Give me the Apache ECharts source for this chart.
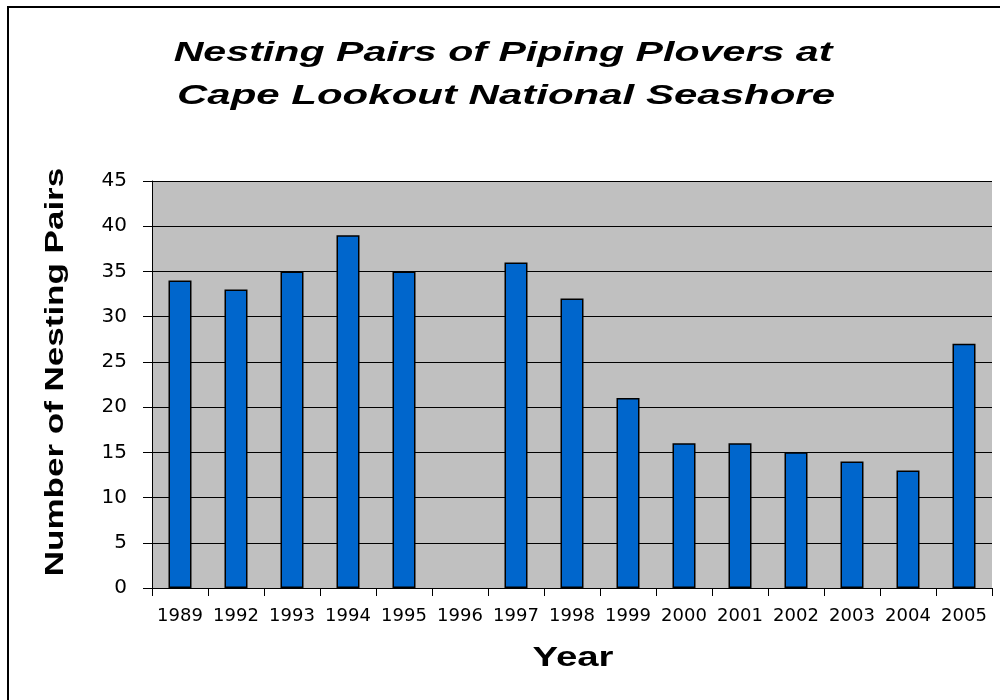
<html lang="en">
  <head>
    <meta charset="utf-8" />
    <title>Nesting Pairs of Piping Plovers</title>
    <script src="https://cdn.jsdelivr.net/npm/echarts@6/dist/echarts.min.js"></script>
    <style>
      html, body { margin: 0; padding: 0; background: #fff; }
    </style>
  </head>
  <body>
    <div id="main" style="width: 1000px;height:700px;"></div>
    <script type="text/javascript">
      var years = ['1989', '1992', '1993', '1994', '1995', '1996', '1997', '1998',
                   '1999', '2000', '2001', '2002', '2003', '2004', '2005'];
      var pairs = [34, 33, 35, 39, 35, null, 36, 32, 21, 16, 16, 15, 14, 13, 27];
      var yTicks = [0, 45, 5]; // min, max, step
      var titleLines = ['Nesting Pairs of Piping Plovers at', 'Cape Lookout National Seashore'];

      // the text in the picture is drawn wide, so stretch it along its baseline
      var boldFont = 'bold 27px "Liberation Sans", Arial, sans-serif';

      var myChart = echarts.init(document.getElementById('main'));
      var option = {
        animation: false,
        textStyle: { fontFamily: '"DejaVu Sans", sans-serif' },
        graphic: [
          {
            type: 'rect',
            shape: { x: 8, y: 7, width: 1000, height: 700 },
            style: { fill: 'none', stroke: '#000', lineWidth: 2 },
            silent: true
          },
          {
            type: 'text', x: 503, y: 53, scaleX: 1.47,
            style: {
              text: titleLines[0], fill: '#000', align: 'center', verticalAlign: 'middle',
              font: 'italic bold 28px "Liberation Sans", Arial, sans-serif'
            }
          },
          {
            type: 'text', x: 506, y: 96, scaleX: 1.5,
            style: {
              text: titleLines[1], fill: '#000', align: 'center', verticalAlign: 'middle',
              font: 'italic bold 28px "Liberation Sans", Arial, sans-serif'
            }
          },
          {
            type: 'text', x: 56, y: 372, rotation: Math.PI / 2, scaleX: 1.4,
            style: {
              text: 'Number of Nesting Pairs', fill: '#000', align: 'center', verticalAlign: 'middle',
              font: 'bold 25px "Liberation Sans", Arial, sans-serif'
            }
          },
          {
            type: 'text', x: 573, y: 659, scaleX: 1.42,
            style: {
              text: 'Year', fill: '#000', align: 'center', verticalAlign: 'middle',
              font: boldFont
            }
          }
        ],
        grid: {
          left: 152,
          right: 8,
          top: 181,
          bottom: 112,
          show: true,
          backgroundColor: '#c0c0c0',
          borderWidth: 0
        },
        xAxis: {
          type: 'category',
          data: years,
          axisLine: { lineStyle: { color: '#000', width: 1 } },
          axisTick: { show: true, length: 8, alignWithLabel: false, lineStyle: { color: '#000' } },
          axisLabel: { fontSize: 18, color: '#000', margin: 19, interval: 0 }
        },
        yAxis: {
          type: 'value',
          min: yTicks[0],
          max: yTicks[1],
          interval: yTicks[2],
          axisLine: { show: true, lineStyle: { color: '#000', width: 1 } },
          axisTick: { show: true, length: 9, lineStyle: { color: '#000' } },
          axisLabel: { fontSize: 20, color: '#000', margin: 25 },
          splitLine: { show: true, lineStyle: { color: '#000', width: 1 } }
        },
        series: [
          {
            type: 'bar',
            data: pairs,
            barWidth: 23,
            itemStyle: { color: '#0066cc', borderColor: '#000', borderWidth: 1.5 }
          }
        ]
      };
      myChart.setOption(option);
    </script>
  </body>
</html>
